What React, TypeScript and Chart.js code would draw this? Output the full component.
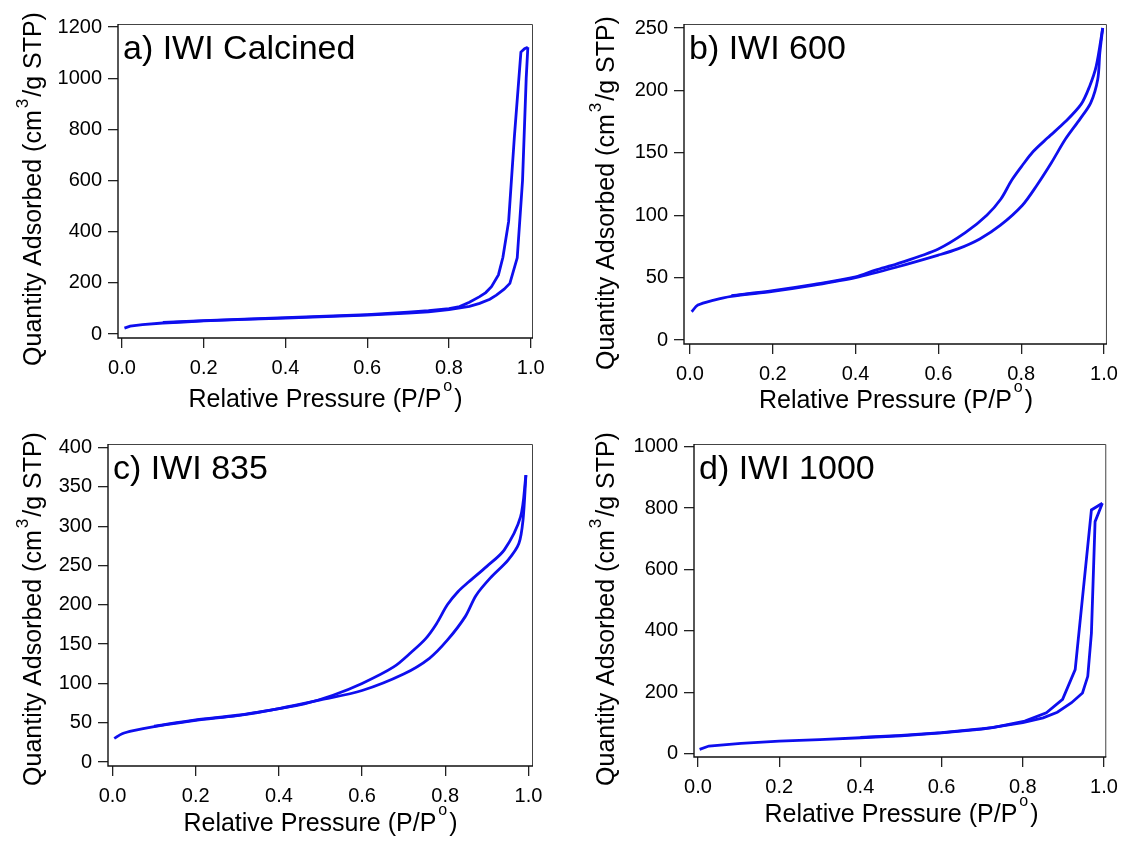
import React, { useEffect, useRef } from "react";
import { Chart, registerables } from "chart.js";

Chart.register(...registerables);

const FONT = "'Liberation Sans', Arial, Helvetica, sans-serif";
const BLUE = "rgb(14,14,238)";

// ---------- data ----------
const X_TICKS = [0, 0.2, 0.4, 0.6, 0.8, 1.0];
const Y_TICKS_A = [0, 200, 400, 600, 800, 1000, 1200];
const Y_TICKS_B = [0, 50, 100, 150, 200, 250];
const Y_TICKS_C = [0, 50, 100, 150, 200, 250, 300, 350, 400];
const Y_TICKS_D = [0, 200, 400, 600, 800, 1000];

// a) IWI Calcined
const A_ADS_P = [0.006, 0.02, 0.05, 0.1, 0.15, 0.2, 0.3, 0.4, 0.5, 0.6, 0.7, 0.75, 0.8, 0.85, 0.875, 0.9, 0.916, 0.935, 0.949, 0.967, 0.98, 0.989, 0.993];
const A_ADS_Q = [23, 31, 37, 43, 47, 51, 57, 62, 68, 74, 82, 87, 95, 108, 120, 136, 152, 175, 198, 298, 600, 1000, 1121];
const A_DES_P = [0.993, 0.985, 0.976, 0.96, 0.946, 0.932, 0.921, 0.904, 0.89, 0.875, 0.85, 0.826, 0.8, 0.75, 0.7, 0.6, 0.5, 0.4, 0.3, 0.2, 0.1];
const A_DES_Q = [1121, 1115, 1102, 770, 440, 300, 231, 185, 162, 146, 124, 107, 99, 91, 85, 76, 70, 64, 58, 52, 45];

// b) IWI 600
const B_ADS_P = [0.004, 0.019, 0.058, 0.1, 0.2, 0.3, 0.4, 0.5, 0.6, 0.647, 0.7, 0.75, 0.803, 0.838, 0.873, 0.907, 0.942, 0.968, 0.985, 0.99, 0.997];
const B_ADS_Q = [22.6, 28, 32, 35, 39, 44, 50, 58.5, 68, 73, 81, 92, 108, 124, 142, 161, 177, 190, 209, 230, 250];
const B_DES_P = [0.997, 0.981, 0.965, 0.945, 0.907, 0.864, 0.829, 0.803, 0.777, 0.751, 0.717, 0.665, 0.6, 0.5, 0.448, 0.4, 0.3, 0.2, 0.1];
const B_DES_Q = [250, 219, 203, 189, 175, 162, 151, 140, 128, 113, 100, 86, 73, 61, 56, 50.5, 44.5, 39.5, 35.5];

// c) IWI 835
const C_ADS_P = [0.004, 0.023, 0.05, 0.1, 0.2, 0.3, 0.4, 0.5, 0.6, 0.7, 0.762, 0.805, 0.848, 0.874, 0.908, 0.951, 0.977, 0.987, 0.994];
const C_ADS_Q = [30, 36, 40, 45, 53, 59, 68, 79, 91, 112, 132, 155, 185, 212, 234, 257, 278, 308, 365];
const C_DES_P = [0.994, 0.981, 0.942, 0.9, 0.856, 0.831, 0.805, 0.779, 0.753, 0.719, 0.676, 0.6, 0.53, 0.461, 0.4, 0.3, 0.2, 0.1];
const C_DES_Q = [365, 312, 270, 249, 229, 217, 200, 176, 157, 140, 121, 100, 85, 74, 68, 59.5, 53.5, 45.5];

// d) IWI 1000
const D_ADS_P = [0.004, 0.027, 0.106, 0.2, 0.3, 0.4, 0.5, 0.6, 0.7, 0.8, 0.85, 0.885, 0.92, 0.947, 0.96, 0.969, 0.978, 0.996];
const D_ADS_Q = [14, 25, 34, 41, 46, 52, 58, 68, 80, 101, 117, 135, 166, 198, 252, 393, 756, 816];
const D_DES_P = [0.996, 0.969, 0.929, 0.898, 0.858, 0.805, 0.726, 0.6, 0.5, 0.4];
const D_DES_Q = [816, 794, 274, 177, 133, 106, 85, 69, 60, 53];

const X_TITLE = ["Relative Pressure (P/P", "o", ")"];
const Y_TITLE = ["Quantity Adsorbed (cm", "3", "/g STP)"];

// ---------- layout ----------
type Panel = {
  key: string;
  label: string;
  canvas: [number, number, number, number];
  box: [number, number, number, number];
  xRange: [number, number];
  yRange: [number, number];
  yTicks: number[];
  ads: [number[], number[]];
  des: [number[], number[]];
  yTitleX: number;
  yTitleY: number;
  xTitleY: number;
  tension: number;
};

const PANELS: Panel[] = [
  {
    key: "a", label: "a) IWI Calcined",
    canvas: [0, 0, 560, 420], box: [118, 24, 533, 338],
    xRange: [-0.0098, 1.0056], yRange: [-15.6, 1211.7], yTicks: Y_TICKS_A,
    ads: [A_ADS_P, A_ADS_Q], des: [A_DES_P, A_DES_Q],
    yTitleX: 41, yTitleY: 189, xTitleY: 407, tension: 0,
  },
  {
    key: "b", label: "b) IWI 600",
    canvas: [560, 0, 566, 420], box: [684, 24, 1108, 344],
    xRange: [-0.0145, 1.0072], yRange: [-3.2, 253.2], yTicks: Y_TICKS_B,
    ads: [B_ADS_P, B_ADS_Q], des: [B_DES_P, B_DES_Q],
    yTitleX: 614, yTitleY: 193, xTitleY: 408, tension: 0.3,
  },
  {
    key: "c", label: "c) IWI 835",
    canvas: [0, 420, 560, 421], box: [108, 444, 533, 766],
    xRange: [-0.011, 1.011], yRange: [-5.1, 404.7], yTicks: Y_TICKS_C,
    ads: [C_ADS_P, C_ADS_Q], des: [C_DES_P, C_DES_Q],
    yTitleX: 41, yTitleY: 609, xTitleY: 831, tension: 0.3,
  },
  {
    key: "d", label: "d) IWI 1000",
    canvas: [560, 420, 566, 421], box: [694, 444, 1109, 757],
    xRange: [-0.0098, 1.0056], yRange: [-10.7, 1008.8], yTicks: Y_TICKS_D,
    ads: [D_ADS_P, D_ADS_Q], des: [D_DES_P, D_DES_Q],
    yTitleX: 614, yTitleY: 609, xTitleY: 822, tension: 0,
  },
];

function drawSupText(ctx: CanvasRenderingContext2D, parts: string[], cx: number, baseY: number, mainSize: number, supSize: number, raise: number) {
  const mainFont = `${mainSize}px ${FONT}`;
  const supFont = `${supSize}px ${FONT}`;
  const gap = 2;
  ctx.font = mainFont;
  const w0 = ctx.measureText(parts[0]).width;
  const w2 = ctx.measureText(parts[2]).width;
  ctx.font = supFont;
  const w1 = ctx.measureText(parts[1]).width;
  const total = w0 + gap + w1 + gap + w2;
  let x = cx - total / 2;
  ctx.textAlign = "left";
  ctx.textBaseline = "alphabetic";
  ctx.font = mainFont;
  ctx.fillText(parts[0], x, baseY);
  x += w0 + gap;
  ctx.font = supFont;
  ctx.fillText(parts[1], x, baseY - raise);
  x += w1 + gap;
  ctx.font = mainFont;
  ctx.fillText(parts[2], x, baseY);
}

function makeChart(canvas: HTMLCanvasElement, p: Panel) {
  const [cx, cy, cw, ch] = p.canvas;
  const [bl, bt, br, bb] = p.box;
  const mk = (xs: number[], ys: number[]) => xs.map((x, i) => ({ x, y: ys[i] }));

  const decor = {
    id: "decor" + p.key,
    beforeDatasetsDraw(chart: any) {
      const { left, top, right, bottom } = chart.chartArea;
      const ctx = chart.ctx as CanvasRenderingContext2D;
      ctx.save();
      ctx.strokeStyle = "#444";
      ctx.lineWidth = 1;
      ctx.beginPath();
      ctx.moveTo(left, top + 0.5);
      ctx.lineTo(right - 0.5, top + 0.5);
      ctx.lineTo(right - 0.5, bottom);
      ctx.stroke();
      ctx.strokeStyle = "#111";
      ctx.lineWidth = 1.4;
      ctx.beginPath();
      ctx.moveTo(left, top);
      ctx.lineTo(left, bottom);
      ctx.lineTo(right, bottom);
      ctx.stroke();
      ctx.restore();
    },
    afterDraw(chart: any) {
      const ctx = chart.ctx as CanvasRenderingContext2D;
      ctx.save();
      ctx.fillStyle = "#000";
      ctx.font = `34px ${FONT}`;
      ctx.textAlign = "left";
      ctx.textBaseline = "alphabetic";
      ctx.fillText(p.label, bl + 5 - cx, bt + 35 - cy);
      drawSupText(ctx, X_TITLE, (bl + br) / 2 - cx, p.xTitleY - cy, 25, 16, 16);
      ctx.translate(p.yTitleX - cx, p.yTitleY - cy);
      ctx.rotate(-Math.PI / 2);
      drawSupText(ctx, Y_TITLE, 0, 0, 25, 17, 13);
      ctx.restore();
    },
  };

  const lineDs = (xs: number[], ys: number[]) => ({
    data: mk(xs, ys),
    showLine: true,
    borderColor: BLUE,
    backgroundColor: BLUE,
    borderWidth: 2.8,
    pointRadius: 0,
    tension: p.tension,
    fill: false,
  });

  const tickFont = { size: 20, family: FONT };
  const grid = { display: true, drawOnChartArea: false, drawTicks: true, tickLength: 10, color: "#222", lineWidth: 1.3 };

  return new Chart(canvas, {
    type: "scatter",
    data: { datasets: [lineDs(p.ads[0], p.ads[1]), lineDs(p.des[0], p.des[1])] as any },
    options: {
      animation: false,
      responsive: false,
      maintainAspectRatio: false,
      events: [],
      layout: { padding: { left: 0, top: bt - cy, right: cx + cw - br, bottom: 0 } },
      plugins: { legend: { display: false }, tooltip: { enabled: false }, title: { display: false } },
      scales: {
        x: {
          type: "linear",
          min: p.xRange[0],
          max: p.xRange[1],
          afterFit: (s: any) => { s.height = cy + ch - bb; },
          afterBuildTicks: (s: any) => { s.ticks = X_TICKS.map((v) => ({ value: v })); },
          ticks: { callback: (v: any) => Number(v).toFixed(1), font: tickFont, color: "#000", padding: 8, maxRotation: 0, autoSkip: false },
          grid,
          border: { display: false },
          title: { display: false },
        },
        y: {
          type: "linear",
          min: p.yRange[0],
          max: p.yRange[1],
          afterFit: (s: any) => { s.width = bl - cx; },
          afterBuildTicks: (s: any) => { s.ticks = p.yTicks.map((v) => ({ value: v })); },
          ticks: { callback: (v: any) => String(v), font: tickFont, color: "#000", padding: 6, autoSkip: false },
          grid,
          border: { display: false },
          title: { display: false },
        },
      },
    } as any,
    plugins: [decor],
  });
}

function PanelCanvas({ p }: { p: Panel }) {
  const ref = useRef<HTMLCanvasElement>(null);
  useEffect(() => {
    const c = makeChart(ref.current as HTMLCanvasElement, p);
    return () => c.destroy();
  }, [p]);
  const [x, y, w, h] = p.canvas;
  return (
    <canvas
      ref={ref}
      width={w}
      height={h}
      style={{ position: "absolute", left: x, top: y, width: w, height: h }}
    />
  );
}

export default function App() {
  return (
    <div style={{ position: "absolute", left: 0, top: 0, width: 1126, height: 841, background: "#fff", overflow: "hidden" }}>
      {PANELS.map((p) => (
        <PanelCanvas key={p.key} p={p} />
      ))}
    </div>
  );
}
